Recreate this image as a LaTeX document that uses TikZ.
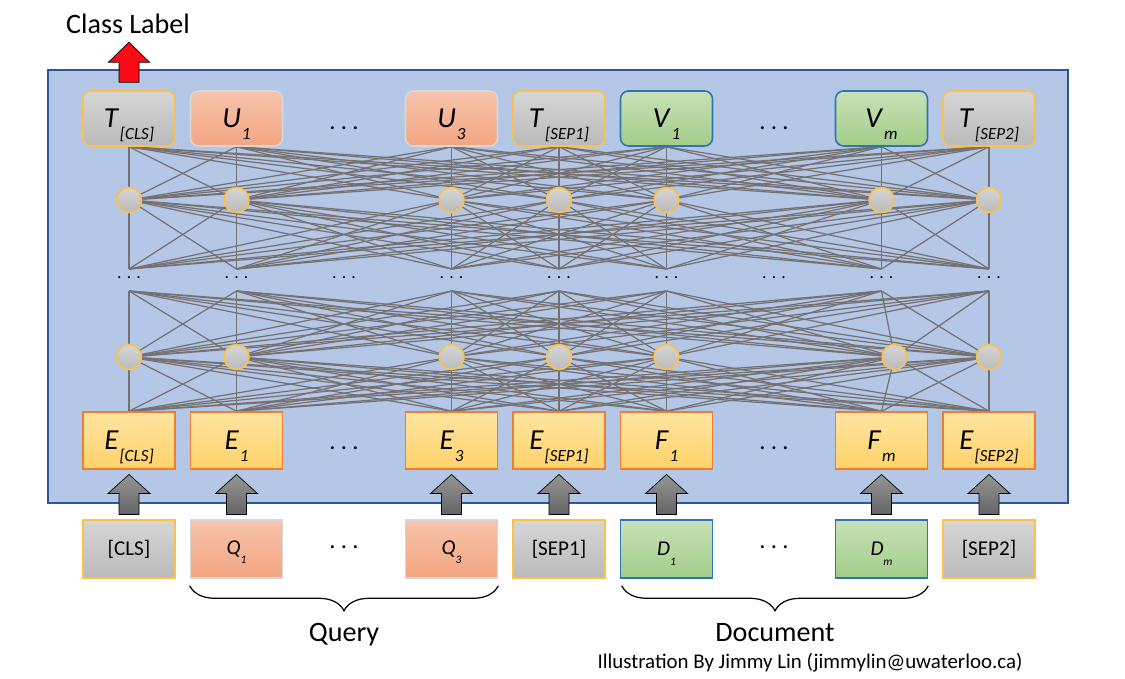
\documentclass[tikz,border=0pt]{standalone}
\usepackage{fontspec}
\setmainfont{Carlito}
\usepackage{tikz}
\usetikzlibrary{calc, decorations.pathreplacing}
\pgfdeclarelayer{panel}
\pgfdeclarelayer{wires}
\pgfsetlayers{panel,wires,main}
\definecolor{panelblue}{RGB}{180,199,231}
\definecolor{paneledge}{RGB}{47,85,151}
\definecolor{wiregray}{RGB}{118,113,113}
\definecolor{goldedge}{RGB}{255,192,70}
\definecolor{orangeedge}{RGB}{237,125,49}
\definecolor{greytop}{RGB}{214,214,214}
\definecolor{greybot}{RGB}{186,186,186}
\definecolor{salmontop}{RGB}{246,196,172}
\definecolor{salmonbot}{RGB}{243,165,130}
\definecolor{greentop}{RGB}{199,225,182}
\definecolor{greenbot}{RGB}{163,205,138}
\definecolor{blueedge}{RGB}{46,117,182}
\definecolor{embtop}{RGB}{255,228,160}
\definecolor{embbot}{RGB}{255,210,105}
\definecolor{lightedge}{RGB}{215,215,215}
\definecolor{arrowtop}{RGB}{150,150,150}
\definecolor{arrowbot}{RGB}{100,100,100}
\definecolor{arrowred}{RGB}{250,10,20}
\newcommand{\tok}[2]{\textit{#1}\raisebox{-0.42em}[0pt][0pt]{\fontsize{9.7}{10}\selectfont\itshape\kern0.05em#2}}
\newcommand{\intok}[2]{\textit{#1}\raisebox{-0.45em}[0pt][0pt]{\fontsize{6.5}{7}\selectfont\itshape#2}}
\newcommand{\threedots}{.\hspace{3pt}.\hspace{3pt}.}

\begin{document}
\begin{tikzpicture}[
  wire/.style={draw=wiregray, line width=0.7pt},
  tokbox/.style={minimum width=1.84cm, minimum height=1.1cm, line width=0.9pt, inner sep=0pt},
  toprow/.style={tokbox, rounded corners=0.16cm, font=\fontsize{16.5}{18}\selectfont},
  embrow/.style={tokbox, minimum height=1.14cm, top color=embtop, bottom color=embbot, draw=orangeedge, font=\fontsize{16.5}{18}\selectfont},
  inrow/.style={tokbox, minimum height=1.16cm, font=\fontsize{12}{14}\selectfont},
  greyfill/.style={top color=greytop, bottom color=greybot, draw=goldedge},
  salmonfill/.style={top color=salmontop, bottom color=salmonbot, draw=lightedge},
  greenfill/.style={top color=greentop, bottom color=greenbot, draw=blueedge},
  unit/.style={circle, minimum size=0.5cm, inner sep=0pt, top color=greytop, bottom color=greybot, draw=goldedge, line width=0.9pt},
  blockarrow/.style={draw=black, line width=0.4pt, top color=arrowtop, bottom color=arrowbot},
  caption/.style={font=\fontsize{16}{18}\selectfont},
]
\useasboundingbox (0,0) rectangle (22.5,13.58);

% encoder panel
\begin{pgfonlayer}{panel}
  \draw[fill=panelblue, draw=paneledge, line width=1pt] (0.96,3.52) rectangle (21.36,12.18);
\end{pgfonlayer}

% output tokens
\foreach \c/\sty/\lab in {1/greyfill/{\tok{T}{[CLS]}}, 2/salmonfill/{\tok{U}{1}}, 4/salmonfill/{\tok{U}{3}},
    5/greyfill/{\tok{T}{[SEP1]}}, 6/greenfill/{\tok{V}{1}}, 8/greenfill/{\tok{V}{m}}, 9/greyfill/{\tok{T}{[SEP2]}}} {
  \node[toprow, \sty] (t-\c) at ({2.58+(\c-1)*2.15},11.21) {\lab};
}
% embeddings
\foreach \c/\lab in {1/{\tok{E}{[CLS]}}, 2/{\tok{E}{1}}, 4/{\tok{E}{3}}, 5/{\tok{E}{[SEP1]}},
    6/{\tok{F}{1}}, 8/{\tok{F}{m}}, 9/{\tok{E}{[SEP2]}}} {
  \node[embrow] (e-\c) at ({2.58+(\c-1)*2.15},4.77) {\lab};
}
% input tokens
\foreach \c/\sty/\lab in {1/greyfill/{[CLS]}, 2/salmonfill/{\intok{Q}{1}}, 4/salmonfill/{\intok{Q}{3}},
    5/greyfill/{[SEP1]}, 6/greenfill/{\intok{D}{1}}, 8/greenfill/{\intok{D}{m}}, 9/greyfill/{[SEP2]}} {
  \node[inrow, \sty] (in-\c) at ({2.58+(\c-1)*2.15},2.6) {\lab};
}
% ellipses between tokens
\foreach \c in {3,7} {
  \node[font=\fontsize{14}{16}\selectfont] (tdots-\c) at ({2.58+(\c-1)*2.15},11.02) {\threedots};
  \node[font=\fontsize{14}{16}\selectfont] (edots-\c) at ({2.58+(\c-1)*2.15},4.62) {\threedots};
  \node[font=\fontsize{14}{16}\selectfont] (indots-\c) at ({2.58+(\c-1)*2.15},2.64) {\threedots};
}

% hidden units
\foreach \c/\dx in {1/0, 2/0, 4/0, 5/0, 6/0, 8/0.26, 9/0} {
  \node[unit] (ha-\c) at ({2.58+(\c-1)*2.15},9.58) {};
  \node[unit] (hb-\c) at ({2.58+(\c-1)*2.15+\dx},6.44) {};
}
\foreach \c in {1,...,9} {
  \node[font=\fontsize{10}{12}\selectfont] (dots-\c) at ({2.58+(\c-1)*2.15},8.02) {\threedots};
}
\foreach \c in {1,2,4,5,6,8,9} {
  \coordinate (dt-\c) at ({2.58+(\c-1)*2.15},8.2);
  \coordinate (db-\c) at ({2.58+(\c-1)*2.15},7.76);
}

% fully connected layers
\begin{pgfonlayer}{wires}
\foreach \i in {1,2,4,5,6,8,9} {
  \foreach \j in {1,2,4,5,6,8,9} {
    \draw[wire] (e-\i.north) -- (hb-\j.center);
    \draw[wire] (hb-\i.center) -- (db-\j);
    \draw[wire] (dt-\i) -- (ha-\j.center);
    \draw[wire] (ha-\i.center) -- (t-\j.south);
  }
}
\end{pgfonlayer}

% input arrows
\foreach \c in {1,2,4,5,6,8,9} {
  \draw[blockarrow, shift={($(in-\c.north)!0.5!(e-\c.south)$)}]
    (-0.2,-0.4) -- (-0.2,0.02) -- (-0.42,0.02) -- (0,0.4) -- (0.42,0.02) -- (0.2,0.02) -- (0.2,-0.4) -- cycle;
}

% class label
\node[caption] (classlabel) at (2.56,13.1) {Class Label};
\draw[draw=black, line width=0.4pt, fill=arrowred, shift={(t-1.north)}]
  (-0.2,0.16) -- (-0.2,0.56) -- (-0.41,0.56) -- (0,0.96) -- (0.41,0.56) -- (0.2,0.56) -- (0.2,0.16) -- cycle;

% segment braces
\draw[decorate, decoration={brace, mirror, amplitude=0.5cm}, line width=0.7pt]
  ($(in-2.south west)+(0,-0.14)$) -- ($(in-4.south east)+(0,-0.14)$)
  node[midway, below=0.62cm, caption] (query) {Query};
\draw[decorate, decoration={brace, mirror, amplitude=0.5cm}, line width=0.7pt]
  ($(in-6.south west)+(0.04,-0.14)$) -- ($(in-8.south east)+(0,-0.14)$)
  node[midway, below=0.62cm, caption] (document) {Document};

\node[font=\fontsize{11.9}{13}\selectfont] (credit) at (16.2,0.32) {Illustration By Jimmy Lin (jimmylin@uwaterloo.ca)};
\end{tikzpicture}
\end{document}
